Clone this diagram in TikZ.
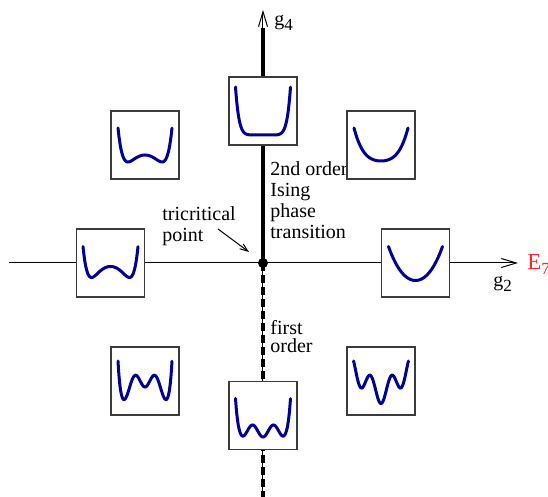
\documentclass[tikz,border=0pt]{standalone}
\usepackage{fontspec}
\setmainfont{Liberation Serif}
\usetikzlibrary{arrows.meta}
\definecolor{potblue}{RGB}{0,0,150}
\definecolor{boxgray}{RGB}{60,60,60}
\definecolor{labelred}{RGB}{255,40,40}
\newcommand{\lowsub}[1]{\raisebox{-0.45ex}{\fontsize{8.5}{9}\selectfont #1}}

\begin{document}
\begin{tikzpicture}[x=0.5pt, y=-0.5pt, font=\fontsize{10}{10.5}\selectfont,
  potbox/.style={draw=boxgray, line width=0.75pt, fill=white, minimum size=34pt, inner sep=0pt},
  potline/.style={draw=potblue, line width=1.5pt, line cap=round},
  axis/.style={line width=0.5pt},
  barb/.style={-{Straight Barb[length=7.5pt,width=4.5pt]}},
  lbl/.style={inner sep=0pt, align=left},
  declare function={s2(\u)=(\u)*(\u); p4(\u)=s2(\u)*s2(\u); p6(\u)=p4(\u)*s2(\u);
    p8(\u)=p4(\u)*p4(\u); p12(\u)=p6(\u)*p6(\u);}]
  \useasboundingbox (0,0) rectangle (548,497);
  \coordinate (tcp) at (263,263);
  \coordinate (west) at (9,263);
  \coordinate (east) at (518,263);
  \coordinate (north) at (263,10);
  \coordinate (neck) at (263,28);
  \coordinate (south) at (263,497);
  % axes
  \draw[axis, barb] (west) -- (east);
  \draw[axis, barb] (tcp) -- (north);
  \draw[line width=2pt] (tcp) -- (neck);
  \draw[axis] (tcp) -- (south);
  \draw[line width=2pt, dash pattern=on 4pt off 2pt] (tcp) -- (south);
  \node[circle, fill, inner sep=0pt, minimum size=5pt] (dot) at (tcp) {};
  % labels
  \node[anchor=base west, inner sep=0pt] (g4) at (274,26) {g\lowsub{4}};
  \node[anchor=base west, inner sep=0pt] (g2) at (493,287) {g\lowsub{2}};
  \node[anchor=base west, inner sep=0pt, text=labelred,
    font=\fontsize{11.5}{13}\selectfont] (e7) at (527,270) {E\lowsub{7}};
  \node[lbl, anchor=north west] (tric) at (162,206) {tricritical\\point};
  \node[lbl, anchor=north west] (ising) at (270,161) {2nd order\\Ising\\phase\\transition};
  \node[lbl, anchor=north west, font=\fontsize{10}{9}\selectfont] (first) at (270,320) {first\\order};
  \coordinate (ptr) at (218,229);
  \coordinate (ptrend) at (249,252);
  \draw[axis, -{Straight Barb[length=4pt,width=3pt]}] (ptr) -- (ptrend);
  % potential boxes
  \node[potbox] (pA) at (145,145) {};
  \node[potbox] (pB) at (263,111) {};
  \node[potbox] (pC) at (381,145) {};
  \node[potbox] (pD) at (110.5,263) {};
  \node[potbox] (pE) at (415.5,263) {};
  \node[potbox] (pF) at (145,381) {};
  \node[potbox] (pG) at (263,415.5) {};
  \node[potbox] (pH) at (381,381) {};
  \draw[potline, shift={(pA.center)}] plot[domain=-1:1, samples=61, smooth]
    ({27*\x}, {10+27.55*s2(\x)-5.47*p4(\x)-49.08*p6(\x)});
  \draw[potline, shift={(pB.center)}] plot[domain=-1:1, samples=61, smooth]
    ({27.5*\x}, {24-48*p8(\x)});
  \draw[potline, shift={(pC.center)}] plot[domain=-1:1, samples=61, smooth]
    ({27*\x}, {16-15*s2(\x)-18*p4(\x)});
  \draw[potline, shift={(pD.center)}] plot[domain=-1:1, samples=61, smooth]
    ({27.5*\x}, {3.5+31.5*s2(\x)+13*p4(\x)-64.45*p6(\x)});
  \draw[potline, shift={(pE.center)}] plot[domain=-1:1, samples=61, smooth]
    ({27*\x}, {17.5-30*s2(\x)-4*p4(\x)});
  \draw[potline, shift={(pF.center)}] plot[domain=-1:1, samples=81, smooth]
    ({27*\x}, {-1.49+7.49*cos(473.7*\x)+24.17*s2(\x)-39.66*p12(\x)});
  \draw[potline, shift={(pG.center)}] plot[domain=-1:1, samples=81, smooth]
    ({27.5*\x}, {15.5+6*cos(473.7*\x)-30.1*p12(\x)});
  \draw[potline, shift={(pH.center)}] plot[domain=-1:1, samples=81, smooth]
    ({27.4*\x}, {10.57+11.93*cos(473.7*\x)-28.74*s2(\x)+2.96*p12(\x)});
\end{tikzpicture}
\end{document}
